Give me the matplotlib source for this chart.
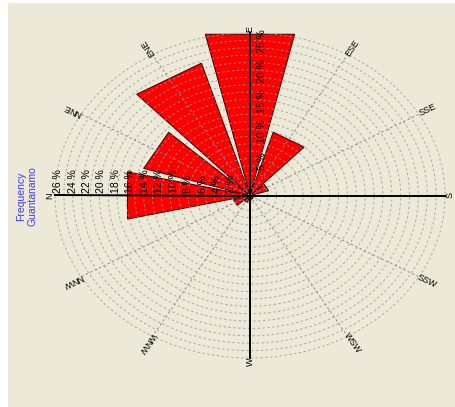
import numpy as np
import matplotlib.pyplot as plt

plt.rcParams['font.family'] = ['Liberation Sans', 'DejaVu Sans']

# wind directions, clockwise from N (N drawn on the left)
directions = ['N', 'NNE', 'ENE', 'E', 'ESE', 'SSE', 'S', 'SSW', 'WSW', 'W', 'WNW', 'NNW']
frequency = [17.4, 15.4, 23.0, 27.5, 11.0, 2.7, 0.7, 0.5, 0.6, 0.8, 1.2, 2.4]

n_axis_ticks = [2, 4, 6, 8, 10, 12, 14, 16, 18, 20, 22, 24, 26]
e_axis_ticks = [5, 10, 15, 20, 25]
title_lines = ['Frequency', 'Guantanamo']

rmax = 27
n_rings = 22
half_w = np.deg2rad(13)
cardinals = ['N', 'E', 'S', 'W']

W, H = 455, 407
fig = plt.figure(figsize=(W / 100, H / 100), dpi=100, facecolor='white')
fig.patches.append(plt.Rectangle((8 / W, 0), 1, 1 - 3 / H, transform=fig.transFigure,
                                 facecolor='#ece9d8', edgecolor='none', zorder=-10))

ax = fig.add_axes([55 / W, 49 / H, 390 / W, 325 / H], projection='polar')
ax.set_aspect('auto')
ax.set_theta_zero_location('W')
ax.set_theta_direction(-1)
ax.set_ylim(0, rmax)
ax.grid(False)
ax.set_xticks([])
ax.set_yticks([])
ax.spines['polar'].set_visible(False)
ax.patch.set_visible(False)

angles = np.deg2rad(np.arange(len(directions)) * 30)

# bars (triangular wedges)
for a, f in zip(angles, frequency):
    ax.fill([a, a - half_w, a + half_w], [0, f, f], facecolor='#ff0000',
            edgecolor='#3a0000', lw=0.7, clip_on=False, zorder=2)

# dashed rings
t = np.linspace(0, 2 * np.pi, 500)
for r in np.linspace(rmax / n_rings, rmax, n_rings):
    ax.plot(t, np.full_like(t, r), ls=(0, (2.5, 2.5)), color='#999999', lw=0.7,
            alpha=0.8, zorder=3, clip_on=False)

# spokes
for d, a in zip(directions, angles):
    if d in cardinals:
        ax.plot([a, a], [0, rmax], color='black', lw=1.4, zorder=4, clip_on=False)
    else:
        ax.plot([a, a], [0, rmax], ls=(0, (2.5, 2.5)), color='#8a8a8a', lw=0.7,
                zorder=3, clip_on=False)

# direction labels
fig.canvas.draw()
for d, a in zip(directions, angles):
    p0 = ax.transData.transform((a, 0))
    p1 = ax.transData.transform((a, rmax))
    ang = np.degrees(np.arctan2(p1[1] - p0[1], p1[0] - p0[0]))
    if d in cardinals:
        ax.text(a, rmax * 1.025, d, rotation=90, ha='center', va='center',
                fontsize=6.5, rotation_mode='anchor', clip_on=False)
    else:
        ax.text(a, rmax * 1.05, d, rotation=ang, ha='center', va='center',
                fontsize=6.5, rotation_mode='anchor', clip_on=False)

# radial tick labels along N axis
for v in n_axis_ticks:
    ax.annotate(f'{v} %', xy=(0, v), xytext=(-3, 2), textcoords='offset points',
                rotation=90, ha='center', va='bottom', fontsize=7.5, zorder=5)

# radial tick labels along E axis
for v in e_axis_ticks:
    ax.annotate(f'{v} %', xy=(np.pi / 2, v), xytext=(5, 3), textcoords='offset points',
                rotation=90, ha='left', va='center', fontsize=7.5, zorder=5)

fig.text(27 / W, 1 - 196 / H, '\n'.join(title_lines), rotation=90, ha='center',
         va='center', color='#3a3aff', fontsize=7.5, multialignment='center')

fig.savefig('out.png', dpi=100, facecolor=fig.get_facecolor())
